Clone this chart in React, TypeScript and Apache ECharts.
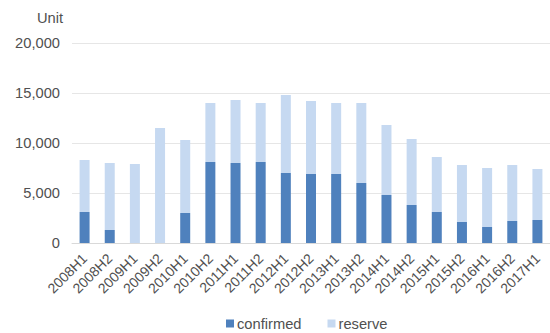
import React, { useEffect, useRef } from "react";
import * as echarts from "echarts";

const categories = [
  "2008H1", "2008H2", "2009H1", "2009H2", "2010H1", "2010H2", "2011H1", "2011H2",
  "2012H1", "2012H2", "2013H1", "2013H2", "2014H1", "2014H2", "2015H1", "2015H2",
  "2016H1", "2016H2", "2017H1",
];

// Confirmed units per half-year
const confirmed = [
  3100, 1300, 0, 0, 3000, 8100, 8000, 8100,
  7000, 6900, 6900, 6000, 4800, 3800, 3100, 2100,
  1600, 2200, 2300,
];

// Total (confirmed + reserve) per half-year
const totals = [
  8300, 8000, 7900, 11500, 10300, 14000, 14300, 14000,
  14800, 14200, 14000, 14000, 11800, 10400, 8600, 7800,
  7500, 7800, 7400,
];

const reserve = totals.map((t, i) => t - confirmed[i]);

const yTicks = { min: 0, max: 20000, interval: 5000 };

const FONT = "'Liberation Sans', Arial, sans-serif";
const TEXT = "#505050";

export default function App() {
  const ref = useRef<HTMLDivElement>(null);

  useEffect(() => {
    if (!ref.current) return;
    const chart = echarts.init(ref.current, undefined, { renderer: "svg" });
    chart.setOption({
      animation: false,
      textStyle: { fontFamily: FONT },
      graphic: [
        {
          type: "text",
          left: 37,
          top: 10,
          style: { text: "Unit", fill: TEXT, font: `14.7px ${FONT}` },
        },
      ],
      legend: {
        left: 226,
        top: 316,
        padding: 0,
        itemWidth: 8,
        itemHeight: 8,
        itemGap: 26,
        icon: "rect",
        textStyle: { color: TEXT, fontSize: 14.7, fontFamily: FONT, padding: [0, 0, 0, -2] },
        data: ["confirmed", "reserve"],
      },
      grid: { left: 72, top: 43, width: 486, height: 200, containLabel: false },
      xAxis: {
        type: "category",
        data: categories,
        axisLine: { lineStyle: { color: "#d9d9d9" } },
        axisTick: { show: false },
        axisLabel: {
          rotate: 45,
          interval: 0,
          color: TEXT,
          fontSize: 14,
          fontFamily: FONT,
          margin: 13,
        },
      },
      yAxis: {
        type: "value",
        min: yTicks.min,
        max: yTicks.max,
        interval: yTicks.interval,
        axisLine: { show: false },
        axisTick: { show: false },
        splitLine: { lineStyle: { color: "#e6e6e6" } },
        axisLabel: {
          color: TEXT,
          fontSize: 14.7,
          fontFamily: FONT,
          margin: 12,
          formatter: (v: number) => v.toLocaleString("en-US"),
        },
      },
      series: [
        {
          name: "confirmed",
          type: "bar",
          stack: "total",
          barWidth: 10,
          itemStyle: { color: "#4F81BD" },
          data: confirmed,
        },
        {
          name: "reserve",
          type: "bar",
          stack: "total",
          barWidth: 10,
          itemStyle: { color: "#C6D9F1" },
          data: reserve,
        },
      ],
    });
    return () => chart.dispose();
  }, []);

  return (
    <div
      ref={ref}
      style={{ position: "fixed", left: 0, top: 0, width: 550, height: 333, background: "#fff" }}
    />
  );
}
